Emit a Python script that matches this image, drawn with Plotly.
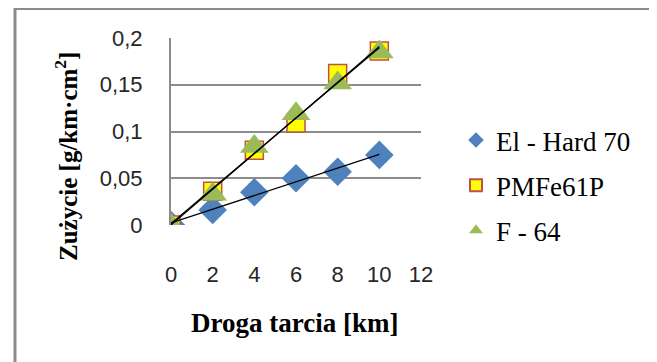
import numpy as np
import plotly.graph_objects as go

# Data
droga = [0, 2, 4, 6, 8, 10]
el_hard_70 = [0.0, 0.016, 0.035, 0.050, 0.057, 0.075]
pmfe61p = [0.0, 0.036, 0.080, 0.109, 0.162, 0.186]
f_64 = [0.0, 0.033, 0.084, 0.119, 0.152, 0.185]

series_names = ["El - Hard 70", "PMFe61P", "F - 64"]
x_ticks = [0, 2, 4, 6, 8, 10, 12]
x_ticktext = ["0", "2", "4", "6", "8", "10", "12"]
y_ticks = [0, 0.05, 0.1, 0.15, 0.2]
y_ticktext = ["0", "0,05", "0,1", "0,15", "0,2"]

# page places the figure at an 8px offset (body margin)
OFF = 8
W, H = 657 - OFF, 362 - OFF
L, R, T, B = 171 - OFF, 421 - OFF, 38 - OFF, 225 - OFF

def px_x(p):
    return (p - OFF - L) / (R - L)

def px_y(p):
    return (B - (p - OFF)) / (B - T)

fig = go.Figure()

series = [
    (series_names[0], el_hard_70, dict(symbol="diamond", size=22, color="#4F81BD", line=dict(width=0))),
    (series_names[1], pmfe61p, dict(symbol="square", size=18, color="#FFFF00", line=dict(width=1.5, color="#C0504D"))),
    (series_names[2], f_64, dict(symbol="triangle-up", size=25, color="#9BBB59", line=dict(width=0))),
]

for i, (name, vals, mk) in enumerate(series):
    fig.add_trace(go.Scatter(x=droga, y=vals, mode="markers", name=name, marker=mk,
                             legendgroup=str(i)))

# linear trend lines fitted from the data
for i, (name, vals, mk) in enumerate(series):
    a, b = np.polyfit(droga, vals, 1)
    xs = [droga[0], droga[-1]]
    fig.add_trace(go.Scatter(x=xs, y=[a * x + b for x in xs], mode="lines",
                             line=dict(color="#000000", width=1.2),
                             showlegend=False, hoverinfo="skip"))

fig.update_layout(
    width=W, height=H,
    margin=dict(l=L, r=W - R, t=T, b=H - B, pad=0),
    paper_bgcolor="white", plot_bgcolor="white",
    showlegend=True,
    legend=dict(x=px_x(456), y=px_y(116), xanchor="left", yanchor="top",
                font=dict(family="Liberation Serif", size=27, color="#000000"),
                tracegroupgap=7, bgcolor="rgba(0,0,0,0)", itemwidth=30,
                itemsizing="constant"),
    xaxis=dict(range=[0, 12], tickvals=x_ticks, ticktext=x_ticktext,
               showgrid=False, zeroline=False, showline=False,
               ticks="outside", ticklen=30, tickcolor="rgba(0,0,0,0)",
               tickfont=dict(family="Liberation Sans", size=22, color="#262626")),
    yaxis=dict(range=[0, 0.2], tickvals=y_ticks, ticktext=y_ticktext,
               showgrid=True, gridcolor="#8C8C8C", gridwidth=2,
               zeroline=False, showline=True, linecolor="#8C8C8C", linewidth=2,
               ticks="outside", ticklen=22, tickcolor="rgba(0,0,0,0)",
               tickfont=dict(family="Liberation Sans", size=22, color="#262626")),
    font=dict(family="Liberation Serif"),
)

fig.add_annotation(text="<b>Droga tarcia [km]</b>", xref="paper", yref="paper",
                   x=px_x(294), y=px_y(323), xanchor="center", yanchor="middle",
                   showarrow=False,
                   font=dict(family="Liberation Serif", size=27, color="#000000"))
fig.add_annotation(text="<b>Zużycie [g/km·cm<sup>2</sup>]</b>", xref="paper", yref="paper",
                   x=px_x(66), y=px_y(157), xanchor="center", yanchor="middle",
                   showarrow=False, textangle=-90,
                   font=dict(family="Liberation Serif", size=25, color="#000000"))

# chart border
fig.add_shape(type="rect", xref="paper", yref="paper",
              x0=px_x(15), x1=px_x(655), y0=px_y(375), y1=px_y(8.5),
              line=dict(color="#8C8C8C", width=3), fillcolor="rgba(0,0,0,0)", layer="below")

fig.write_html("out.html")
